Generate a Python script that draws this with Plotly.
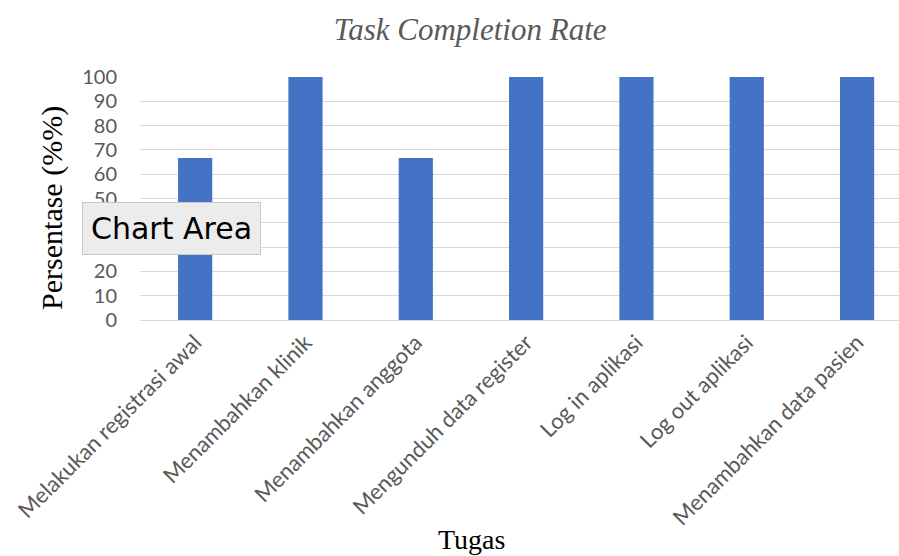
import plotly.graph_objects as go

# Task names and completion percentages
tasks = [
    "Melakukan registrasi awal",
    "Menambahkan klinik",
    "Menambahkan anggota",
    "Mengunduh data register",
    "Log in aplikasi",
    "Log out aplikasi",
    "Menambahkan data pasien",
]
completion = [66.67, 100, 66.67, 100, 100, 100, 100]
y_ticks = [0, 10, 20, 30, 40, 50, 60, 70, 80, 90, 100]

fig = go.Figure()
fig.add_trace(go.Bar(
    x=list(range(len(tasks))),
    y=completion,
    width=0.31,
    marker=dict(color="#4472c4", line=dict(width=0)),
    hoverinfo="skip",
))

fig.update_layout(
    width=899,
    height=556,
    margin=dict(l=140, r=0, t=77, b=236),
    paper_bgcolor="white",
    plot_bgcolor="white",
    showlegend=False,
    title=dict(
        text="<i>Task Completion Rate</i>",
        x=0.523, xanchor="center",
        y=0.948, yanchor="middle",
        font=dict(family="Liberation Serif", size=31, color="#595959"),
    ),
    xaxis=dict(
        range=[-0.5, 6.38],
        tickmode="array",
        tickvals=list(range(len(tasks))),
        ticktext=tasks,
        tickangle=-45,
        tickfont=dict(family="Lato", size=22, color="#595959"),
        showgrid=False,
        showline=True,
        linecolor="#d9d9d9",
        linewidth=1,
        ticks="",
        zeroline=False,
    ),
    yaxis=dict(
        range=[0, 100],
        tickmode="array",
        tickvals=y_ticks,
        tickfont=dict(family="Lato", size=20, color="#595959"),
        showgrid=True,
        gridcolor="#d9d9d9",
        gridwidth=1,
        zeroline=False,
        ticks="",
        ticklabelstandoff=22,
    ),
    annotations=[
        dict(
            text="Persentase (%%)",
            xref="paper", yref="paper",
            x=-0.116, y=0.461,
            xanchor="center", yanchor="middle",
            textangle=-90,
            showarrow=False,
            font=dict(family="Liberation Serif", size=30, color="black"),
        ),
        dict(
            text="Tugas",
            xref="paper", yref="paper",
            x=0.437, y=-0.905,
            xanchor="center", yanchor="middle",
            showarrow=False,
            font=dict(family="Liberation Serif", size=28, color="black"),
        ),
        dict(
            text="Chart Area",
            xref="paper", yref="paper",
            x=-0.077, y=0.377,
            xanchor="left", yanchor="middle",
            showarrow=False,
            bgcolor="#ececec",
            bordercolor="#c8c8c8",
            borderwidth=1,
            borderpad=8,
            font=dict(family="DejaVu Sans", size=30, color="black"),
        ),
    ],
)

fig.write_html("out.html")
